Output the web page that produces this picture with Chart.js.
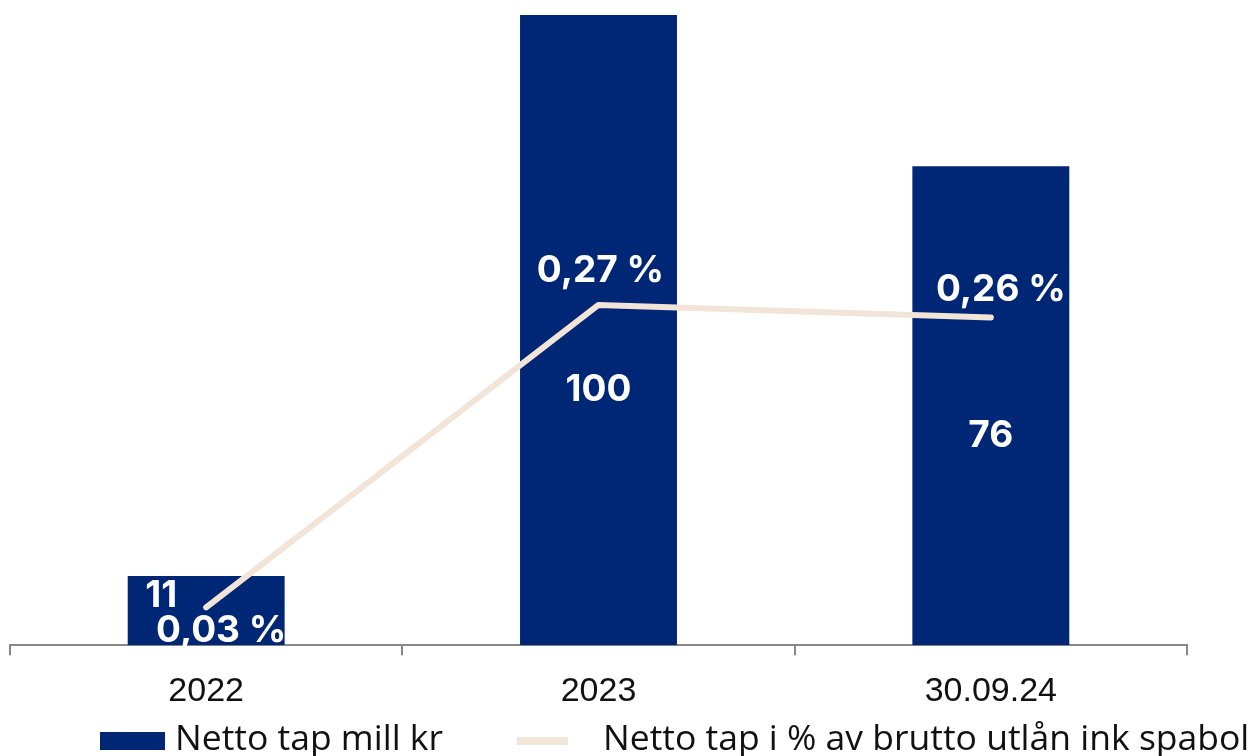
<!DOCTYPE html>
<html>
<head>
<meta charset="utf-8">
<script src="https://cdn.jsdelivr.net/npm/chart.js@4.4.0/dist/chart.umd.min.js"></script>
<style>
  body { margin: 0; background: #fff; }
  #wrap { width: 1249px; height: 756px; position: relative; }
</style>
</head>
<body>
<div id="wrap"><canvas id="myChart"></canvas></div>
<script>
// data
const labels = ['2022', '2023', '30.09.24'];
const tapMill = [11, 100, 76];
const tapPct = [0.03, 0.27, 0.26];
const barName = 'Netto tap mill kr';
const lineName = 'Netto tap i % av brutto utlån ink spabol';

const navy = '#002776';
const beige = '#F3E4D8';

// label offsets (relative to element), per index
const barLabelOffset = [[-45, -15], [0, 60], [0, 30]];
const lineLabelOffset = [[15, 23], [2, -34], [10, -28]];

// labels drawn on top
const valueLabels = {
    id: 'valueLabels',
    afterDatasetsDraw(chart) {
        const ctx = chart.ctx;
        ctx.save();
        ctx.fillStyle = '#fff';
        ctx.font = 'bold 37px Inter';
        ctx.textAlign = 'center';
        ctx.textBaseline = 'middle';
        chart.getDatasetMeta(0).data.forEach((bar, i) => {
            let mid = (bar.y + bar.base) / 2;
            ctx.fillText(tapMill[i], bar.x + barLabelOffset[i][0], mid + barLabelOffset[i][1]);
        });
        chart.getDatasetMeta(1).data.forEach((pt, i) => {
            let txt = tapPct[i].toFixed(2).replace('.', ',') + ' %';
            ctx.fillText(txt, pt.x + lineLabelOffset[i][0], pt.y + lineLabelOffset[i][1]);
        });
        ctx.restore();
    }
};

// legend at the bottom, drawn by hand
const bottomLegend = {
    id: 'bottomLegend',
    afterDraw(chart) {
        const ctx = chart.ctx;
        const ds = chart.data.datasets;
        const y = 740;
        ctx.save();
        ctx.fillStyle = ds[0].backgroundColor;
        ctx.fillRect(100, y - 8, 65, 18);
        ctx.strokeStyle = ds[1].borderColor;
        ctx.lineWidth = 8;
        ctx.beginPath();
        ctx.moveTo(517, y + 1);
        ctx.lineTo(568, y + 1);
        ctx.stroke();
        ctx.fillStyle = '#111';
        ctx.font = '35.5px "Open Sans"';
        ctx.textBaseline = 'middle';
        ctx.fillText(ds[0].label, 175, y);
        ctx.fillText(ds[1].label, 603, y);
        ctx.restore();
    }
};

const data = {
    labels: labels,
    datasets: [{
        type: 'bar',
        label: barName,
        data: tapMill,
        backgroundColor: navy,
        yAxisID: 'y',
        barPercentage: 0.5,
        categoryPercentage: 0.8,
        order: 2
    }, {
        type: 'line',
        label: lineName,
        data: tapPct,
        borderColor: beige,
        backgroundColor: beige,
        borderWidth: 6,
        borderCapStyle: 'round',
        borderJoinStyle: 'round',
        pointRadius: 0,
        tension: 0,
        yAxisID: 'y1',
        order: 1
    }]
};

const config = {
    data: data,
    plugins: [valueLabels, bottomLegend],
    options: {
        responsive: true,
        maintainAspectRatio: false,
        animation: false,
        layout: { padding: { left: 10, right: 62, top: 15, bottom: 28 } },
        plugins: {
            tooltip: { enabled: false },
            legend: { display: false }
        },
        scales: {
            x: {
                grid: { display: true, drawOnChartArea: false, tickLength: 10, color: '#888', lineWidth: 2 },
                border: { color: '#888', width: 2 },
                ticks: { color: '#111', padding: 16, font: { family: 'Liberation Sans', size: 34 } }
            },
            y: { display: false, min: 0, max: 100 },
            y1: { display: false, min: 0, max: 0.5 }
        }
    }
};
const myChart = new Chart(document.getElementById('myChart'), config);
</script>
</body>
</html>
